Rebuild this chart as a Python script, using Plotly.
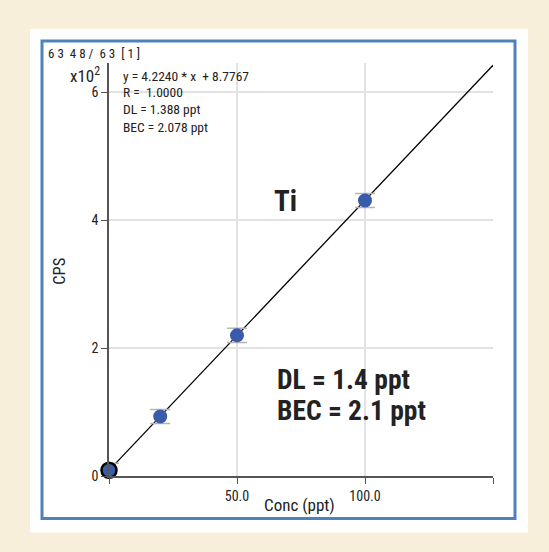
import plotly.graph_objects as go

# ---- data ----
conc = [0, 20, 50, 100]            # ppt
cps_e2 = [0.09, 0.93, 2.20, 4.31]  # CPS x10^2
err_e2 = [0.11, 0.11, 0.11, 0.11]
slope_e2 = 0.042240                # 4.2240 cps/ppt -> x10^2
intercept_e2 = 0.087767            # 8.7767 cps -> x10^2
x_ticks = [50, 100]
x_ticktext = ["50.0", "100.0"]
x_minor_ticks = [0, 150]
y_ticks = [0, 2, 4, 6]
y_ticktext = ["0", "2", "4", "6"]
x_range = [0, 150]
y_range = [0, 6.46]

W, H = 549, 552
L, R, T, B = 109, 56, 63, 75.5
PW, PH = W - L - R, H - T - B

def px(x):
    return (x - L) / PW

def py(y):
    return (H - B - y) / PH

FONT = "Liberation Sans Narrow, Roboto Condensed, DejaVu Sans Condensed, Arial Narrow, sans-serif"

fig = go.Figure()

fit_x = x_range
fit_y = [slope_e2 * v + intercept_e2 for v in fit_x]
fig.add_trace(go.Scatter(x=fit_x, y=fit_y, mode="lines",
                         line=dict(color="black", width=1.3),
                         hoverinfo="skip", showlegend=False))

fig.add_trace(go.Scatter(
    x=conc, y=cps_e2, mode="markers",
    marker=dict(size=14, color="#3A5BA9", line=dict(width=0)),
    error_y=dict(type="data", array=err_e2, visible=True,
                 color="#b4b4b4", thickness=1.5, width=10),
    cliponaxis=False, showlegend=False))

# blank highlight ring
fig.add_trace(go.Scatter(
    x=conc[:1], y=cps_e2[:1], mode="markers",
    marker=dict(size=15, symbol="circle-open", color="black", line=dict(width=2.5, color="black")),
    cliponaxis=False, showlegend=False))

shapes = [
    dict(type="rect", xref="paper", yref="paper",
         x0=px(30), x1=px(528), y0=py(533), y1=py(29),
         fillcolor="white", line=dict(width=0), layer="below"),
    dict(type="rect", xref="paper", yref="paper",
         x0=px(42), x1=px(515), y0=py(519), y1=py(41),
         fillcolor="rgba(0,0,0,0)", line=dict(width=3, color="#4F81BD"), layer="below"),
]

ann = []
def add(text, x, y, size, xanchor="left", yanchor="middle", bold=False, angle=0, color="#222"):
    ann.append(dict(text=("<b>%s</b>" % text) if bold else text,
                    x=px(x), y=py(y), xref="paper", yref="paper",
                    xanchor=xanchor, yanchor=yanchor, showarrow=False,
                    textangle=angle, font=dict(family=FONT, size=size, color=color)))

add("6 3  4 8 /  6 3  [ 1 ]", 46, 53, 13)
add("x10<sup>2</sup>", 102, 75, 17, xanchor="right")
add("y = 4.2240 * x  + 8.7767", 121, 76, 13.5)
add("R =  1.0000", 121, 92, 13.5)
add("DL = 1.388 ppt", 121, 109.5, 13.5)
add("BEC = 2.078 ppt", 121, 127, 13.5)
add("Ti", 285, 201, 29, xanchor="center", bold=True)
add("DL = 1.4 ppt", 275, 380, 27.5, bold=True)
add("BEC = 2.1 ppt", 275, 411, 27.5, bold=True)
add("CPS", 60, 272, 16.5, xanchor="center", angle=-90)
add("Conc (ppt)", 299, 506, 17, xanchor="center")

axis_common = dict(showline=True, linecolor="#555", linewidth=1.5,
                   ticks="outside", ticklen=6, tickwidth=1.3, tickcolor="#555",
                   showgrid=True, gridcolor="#e2e2e2", gridwidth=1.5,
                   zeroline=False, tickfont=dict(family=FONT, size=14, color="#222"))

fig.update_xaxes(range=x_range, tickvals=x_ticks, ticktext=x_ticktext,
                 minor=dict(tickvals=x_minor_ticks, ticks="outside", ticklen=6,
                            tickwidth=1.3, tickcolor="#555", showgrid=True,
                            gridcolor="#e2e2e2", gridwidth=1.5),
                 **axis_common)
fig.update_yaxes(range=y_range, tickvals=y_ticks, ticktext=y_ticktext, **axis_common)

fig.update_layout(width=W, height=H, margin=dict(l=L, r=R, t=T, b=B),
                  paper_bgcolor="#F7EFD9", plot_bgcolor="white",
                  shapes=shapes, annotations=ann, showlegend=False)

fig.write_html("out.html", config={"displayModeBar": False},
               post_script="document.body.style.margin='0';")
